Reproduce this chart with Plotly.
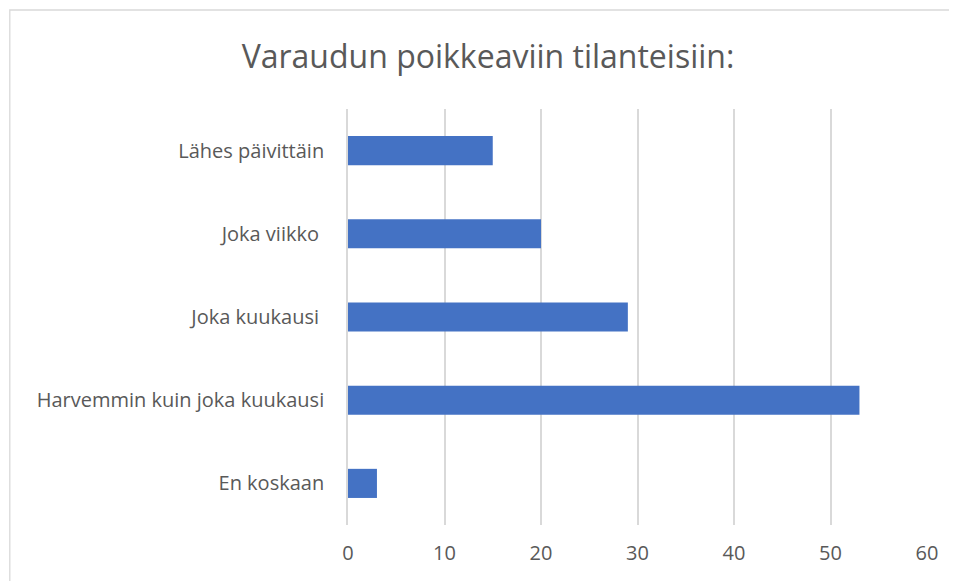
import plotly.graph_objects as go

categories = ["Lähes päivittäin", "Joka viikko\u00a0", "Joka kuukausi\u00a0",
              "Harvemmin kuin joka kuukausi", "En koskaan"]
values = [15, 20, 29, 53, 3]
x_ticks = [0, 10, 20, 30, 40, 50, 60]

W, H = 957, 581
OFF = 8  # page body margin
L, R, T, B = 347.5 - OFF, 30 + OFF, 109 - OFF, 56 + OFF
pw, ph = W - L - R, H - T - B


def px_to_paper(x, y):
    return (x - OFF - L) / pw, (H - B - (y - OFF)) / ph


fig = go.Figure(go.Bar(
    x=values, y=categories, orientation="h",
    marker=dict(color="#4472C4", line=dict(width=0)),
))

x0, y0 = px_to_paper(9, 10)
x1, y1 = px_to_paper(980, 600)
fig.add_shape(type="rect", xref="paper", yref="paper", x0=x0, y0=y1, x1=x1, y1=y0,
              line=dict(color="#D9D9D9", width=1.3), layer="below")

fig.update_layout(
    width=W, height=H,
    margin=dict(l=L, r=R, t=T, b=B),
    paper_bgcolor="white", plot_bgcolor="white",
    font=dict(family="Open Sans, sans-serif", color="#595959", size=20),
    title=dict(text="Varaudun poikkeaviin tilanteisiin:", x=(488 - OFF) / W, xanchor="center",
               y=1 - (57 - OFF) / H, yanchor="middle", yref="container",
               font=dict(size=32, color="#595959")),
    bargap=0.65,
    showlegend=False,
)
fig.update_xaxes(range=[0, 60], tickvals=x_ticks, showgrid=True, gridcolor="#D9D9D9",
                 gridwidth=1.6, zeroline=False, showline=False, ticks="",
                 ticklabelstandoff=14, tickfont=dict(size=20))
fig.update_yaxes(autorange="reversed", showgrid=False, zeroline=False,
                 showline=True, linecolor="#D9D9D9", linewidth=1.6, ticks="",
                 ticklabelstandoff=18, tickfont=dict(size=20))

fig.write_html("out.html")
